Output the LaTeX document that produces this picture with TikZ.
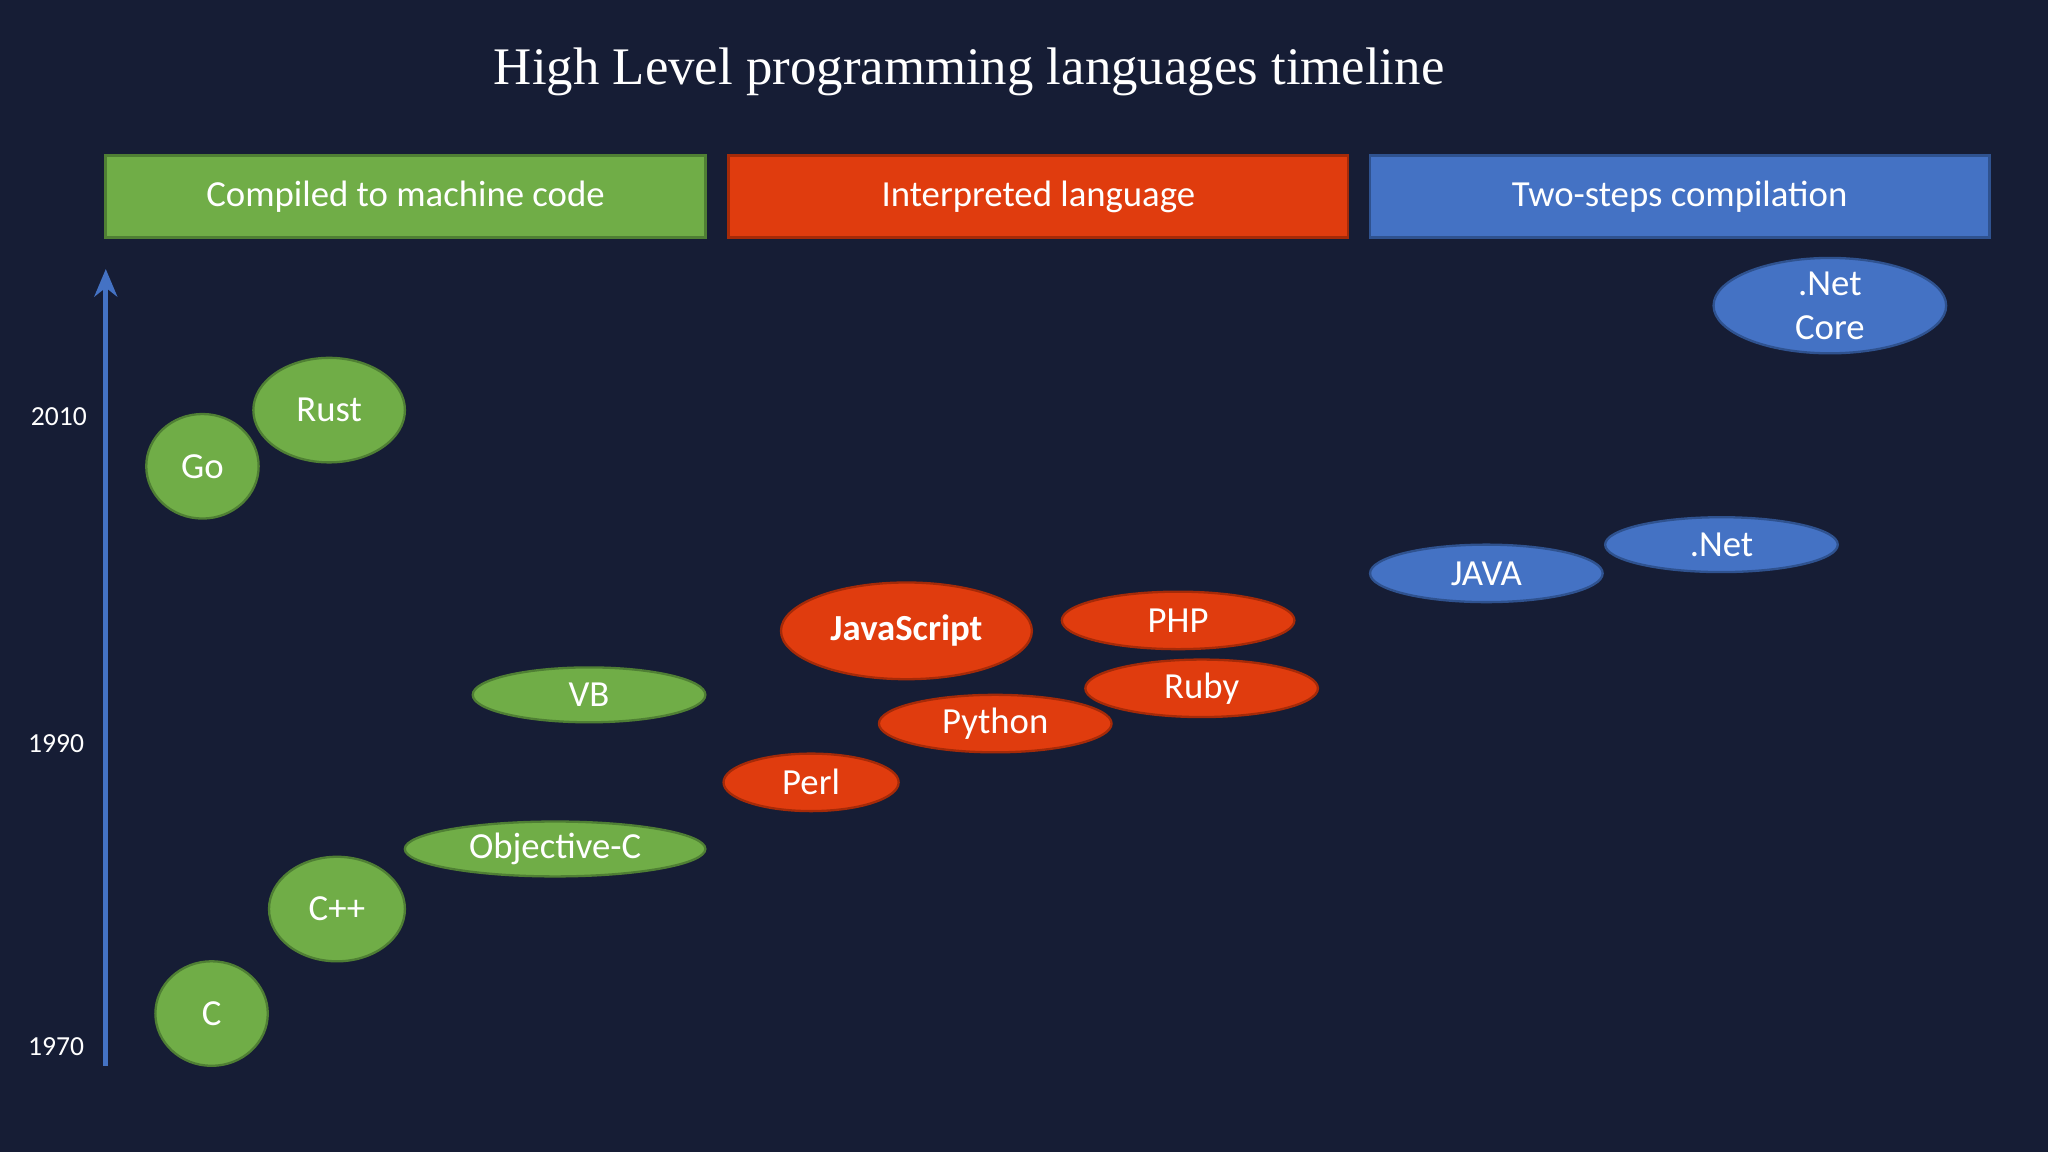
\documentclass[tikz,border=0pt]{standalone}
\usepackage{fontspec}
\setmainfont{Carlito}
\newfontfamily\titlefont{Liberation Serif}
\usetikzlibrary{shapes.geometric,arrows.meta}
\definecolor{bg}{HTML}{161D35}
\definecolor{gr}{HTML}{70AD47}
\definecolor{grd}{HTML}{4F7F34}
\definecolor{rd}{HTML}{E03C0E}
\definecolor{rdd}{HTML}{A52A08}
\definecolor{bl}{HTML}{4472C4}
\definecolor{bld}{HTML}{2F528F}
\tikzset{
 lang/.style={ellipse,draw,line width=0.5pt,text=white,inner sep=0pt,font=\fontsize{8}{9.5}\selectfont,align=center},
 g/.style={lang,fill=gr,draw=grd},
 r/.style={lang,fill=rd,draw=rdd},
 b/.style={lang,fill=bl,draw=bld},
 cat/.style={draw,line width=0.6pt,text=white,font=\fontsize{8}{9.5}\selectfont,inner sep=0pt},
 yr/.style={text=white,font=\fontsize{6}{7}\selectfont}
}
\begin{document}
\begin{tikzpicture}[x=0.01cm,y=-0.01cm]
\fill[bg] (0,0) rectangle (1568,882);
\useasboundingbox (0,0) rectangle (1568,882);
\node[text=white,font=\titlefont\fontsize{11.5}{13}\selectfont] (title) at (742,55) {High Level programming languages timeline};
\node[cat,fill=gr,draw=grd,minimum width=4.59cm,minimum height=0.63cm] (comp) at (310.5,150.5) {Compiled to machine code};
\node[cat,fill=rd,draw=rdd,minimum width=4.74cm,minimum height=0.63cm] (interp) at (795,150.5) {Interpreted language};
\node[cat,fill=bl,draw=bld,minimum width=4.74cm,minimum height=0.63cm] (two) at (1286,150.5) {Two-steps compilation};
\coordinate (a0) at (81,816);
\coordinate (a1) at (81,206);
\draw[bl,line width=1pt,-{Stealth[length=6pt,width=5pt]}] (a0) -- (a1);
\node[yr] (y2010) at (45,319) {2010};
\node[yr] (y1990) at (43,569) {1990};
\node[yr] (y1970) at (43,801) {1970};
\node[g,minimum width=0.86cm,minimum height=0.80cm] (c) at (162,776) {C};
\node[g,minimum width=1.04cm,minimum height=0.80cm] (cpp) at (258,696) {C++};
\node[g,minimum width=2.30cm,minimum height=0.42cm] (objc) at (425,650) {Objective-C};
\node[g,minimum width=1.78cm,minimum height=0.42cm] (vb) at (451,532) {VB};
\node[g,minimum width=0.86cm,minimum height=0.80cm] (go) at (155,357) {Go};
\node[g,minimum width=1.16cm,minimum height=0.80cm] (rust) at (252,314) {Rust};
\node[r,minimum width=1.34cm,minimum height=0.44cm] (perl) at (621,599) {Perl};
\node[r,minimum width=1.78cm,minimum height=0.44cm] (python) at (762,554) {Python};
\node[r,minimum width=1.92cm,minimum height=0.74cm,font=\fontsize{8}{9.5}\selectfont\bfseries] (js) at (694,483) {JavaScript};
\node[r,minimum width=1.78cm,minimum height=0.44cm] (php) at (902,475) {PHP};
\node[r,minimum width=1.78cm,minimum height=0.44cm] (ruby) at (920,527) {Ruby};
\node[b,minimum width=1.78cm,minimum height=0.44cm] (java) at (1138,439) {JAVA};
\node[b,minimum width=1.78cm,minimum height=0.42cm] (net) at (1318,417) {.Net};
\node[b,minimum width=1.78cm,minimum height=0.64cm] (netcore) at (1401,234) {.Net\\Core};
\end{tikzpicture}
\end{document}
